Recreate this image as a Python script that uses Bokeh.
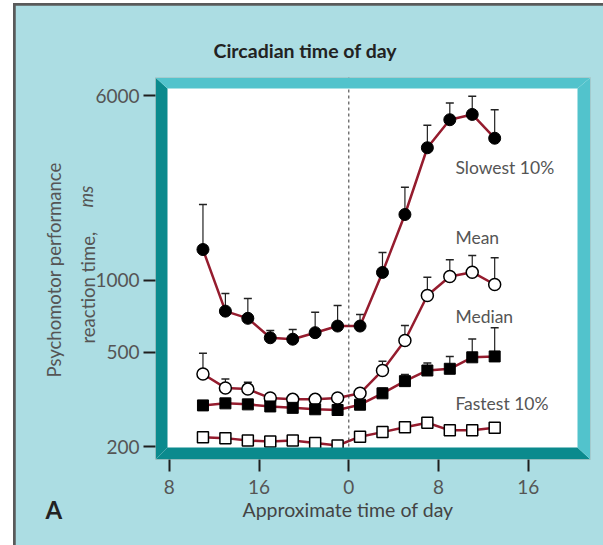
from bokeh.plotting import figure
from bokeh.models import FixedTicker, Label, Span, PolyAnnotation, Range1d, Title
from bokeh.layouts import column
from bokeh.embed import file_html
from bokeh.resources import INLINE

# ---- data ----
hours = [-13, -11, -9, -7, -5, -3, -1, 1, 3, 5, 7, 9, 11, 13]
slowest = [1350, 743, 693, 574, 566, 603, 643, 643, 1081, 1896, 3620, 4750, 5000, 3970]
slowest_err = [2090, 881, 840, 616, 622, 735, 785, 720, 1312, 2471, 4500, 5580, 5960, 5235]
mean = [404, 353, 349, 320, 316, 316, 320, 335, 418, 559, 865, 1040, 1084, 962]
mean_err = [494, 385, 373, 330, 326, 326, 334, 345, 457, 646, 1033, 1222, 1274, 1246]
median = [298, 304, 301, 295, 291, 287, 285, 300, 335, 377, 418, 425, 475, 479]
median_err = [298, 304, 301, 295, 291, 287, 285, 300, 352, 402, 450, 479, 567, 632]
fastest = [219, 217, 212, 210, 212, 207, 202, 220, 230, 241, 252, 234, 234, 240]

y_ticks = [200, 500, 1000, 6000]
y_tick_labels = ["200", "500", "1000", "6000"]
x_ticks = [-16, -8, 0, 8, 16]
x_tick_labels = ["8", "16", "0", "8", "16"]
series_names = ["Slowest 10%", "Mean", "Median", "Fastest 10%"]
series_label_y = [2990, 1517, 706, 304]

FONT = "Lato"
BG = "#acdde3"
DARK = "#0b8a8d"
LIGHT = "#52c3cc"
LINE = "#951c2e"

p = figure(width=588, height=540, y_axis_type="log",
           x_range=Range1d(-17.23, 21.54), y_range=Range1d(176.4, 7152),
           output_backend="svg", toolbar_location=None,
           min_border_left=140, min_border_top=72, min_border_right=13,
           min_border_bottom=86)
p.margin = (2, 0, 0, 2)
p.border_fill_color = BG
p.background_fill_color = "white"
p.outline_line_color = None
p.grid.visible = False

for ax in (p.xaxis[0], p.yaxis[0]):
    ax.axis_line_color = None
    ax.major_tick_in = 0
    ax.major_tick_out = 12
    ax.major_tick_line_width = 2
    ax.major_tick_line_color = "#1e1e1e"
    ax.minor_tick_line_color = None
    ax.major_label_text_font = FONT
    ax.major_label_text_font_size = "19px"
    ax.major_label_text_color = "#555555"

p.yaxis.ticker = FixedTicker(ticks=y_ticks)
p.yaxis.major_label_overrides = {t: l for t, l in zip(y_ticks, y_tick_labels)}
p.yaxis.major_label_standoff = 4
p.xaxis.ticker = FixedTicker(ticks=x_ticks)
p.xaxis.major_label_overrides = {t: l for t, l in zip(x_ticks, x_tick_labels)}
p.xaxis.major_label_standoff = 8

# title
p.title.text = "Circadian time of day"
p.title.text_font = FONT
p.title.text_font_style = "bold"
p.title.text_font_size = "19.5px"
p.title.text_color = "#222222"
p.title.align = "left"
p.title.offset = 58
p.title.vertical_align = "bottom"
p.title.standoff = 32

# midnight line
p.add_layout(Span(location=0, dimension="height", line_color="#333333",
                  line_width=1, line_dash="3 3"))

# error bars (upper)
for vals, tops in [(slowest, slowest_err), (mean, mean_err), (median, median_err)]:
    p.segment(hours, vals, hours, tops, line_color="#222222", line_width=1.2)
    p.scatter(hours, tops, marker="dash", size=8, line_color="#222222", line_width=1.5)

# lines
for vals in (slowest, mean, median, fastest):
    p.line(hours, vals, line_color=LINE, line_width=2.5)

p.scatter(hours, slowest, marker="circle", size=12, fill_color="black", line_color="black")
p.scatter(hours, mean, marker="circle", size=12, fill_color="white", line_color="black", line_width=1.5)
p.scatter(hours, median, marker="square", size=11, fill_color="black", line_color="black")
p.scatter(hours, fastest, marker="square", size=11, fill_color="white", line_color="black", line_width=1.5)

for name, yv in zip(series_names, series_label_y):
    p.add_layout(Label(x=9.5, y=yv, text=name, text_font=FONT, text_font_size="17.5px",
                       text_color="#555555", text_baseline="middle"))

# beveled frame border (screen units relative to the plot frame)
W, H = 435, 382
p.add_layout(PolyAnnotation(xs=[0, 12, 12, 0], ys=[H, H - 11, 12, 0], xs_units="screen",
                            ys_units="screen", fill_color=DARK, fill_alpha=1, line_color=None))
p.add_layout(PolyAnnotation(xs=[0, 12, W - 13, W], ys=[0, 12, 12, 0], xs_units="screen",
                            ys_units="screen", fill_color=DARK, fill_alpha=1, line_color=None))
p.add_layout(PolyAnnotation(xs=[0, W, W - 13, 12], ys=[H, H, H - 11, H - 11], xs_units="screen",
                            ys_units="screen", fill_color=LIGHT, fill_alpha=1, line_color=None))
p.add_layout(PolyAnnotation(xs=[W, W, W - 13, W - 13], ys=[H, 0, 12, H - 11], xs_units="screen",
                            ys_units="screen", fill_color=LIGHT, fill_alpha=1, line_color=None))

# outside texts as side-panel titles
p.add_layout(Title(text="Approximate time of day", text_font=FONT, text_font_size="19.5px",
                   text_font_style="normal", text_color="#444444", align="left", offset=87,
                   vertical_align="middle", standoff=1), "below")
p.add_layout(Title(text="A", text_font=FONT, text_font_size="24px", text_font_style="bold",
                   text_color="#222222", align="left", offset=-110,
                   vertical_align="top", standoff=-56), "below")
p.add_layout(Title(text="reaction time, ", text_font=FONT, text_font_size="18.5px",
                   text_font_style="normal", text_color="#555555", align="left", offset=116,
                   vertical_align="middle", standoff=-14), "left")
p.add_layout(Title(text="ms", text_font=FONT, text_font_size="18.5px",
                   text_font_style="italic", text_color="#555555", align="left", offset=252,
                   vertical_align="bottom", standoff=-28), "left")
p.add_layout(Title(text="Psychomotor performance", text_font=FONT, text_font_size="18.5px",
                   text_font_style="normal", text_color="#555555", align="left", offset=82,
                   vertical_align="bottom", standoff=36), "left")

lay = column(p, margin=(3, 0, 0, 13), styles={"background-color": "#5a5a5a"})

open("out.html", "w").write(file_html(lay, INLINE))
